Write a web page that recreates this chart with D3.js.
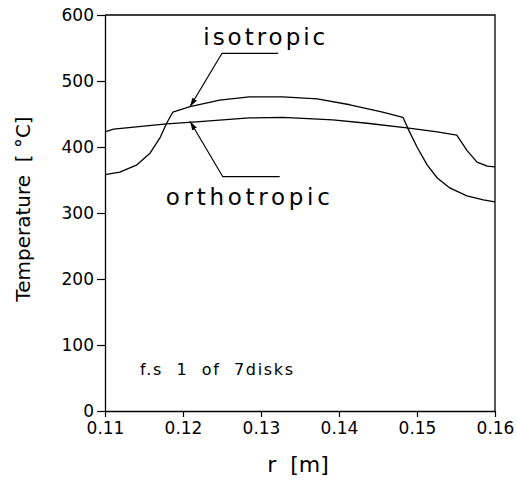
<!DOCTYPE html>
<html>
<head>
<meta charset="utf-8">
<script src="https://cdn.jsdelivr.net/npm/d3@7"></script>
<style>
  body { margin: 0; background: #fff; }
  svg { font-family: "DejaVu Sans", sans-serif; }
</style>
</head>
<body>
<svg width="517" height="487"></svg>
<script>
// radius [m] and temperature [°C]
const rIso = [0.11, 0.1119, 0.1141, 0.1158, 0.1171, 0.1179, 0.1187, 0.1209, 0.1247, 0.1285,
  0.1328, 0.1372, 0.1414, 0.1456, 0.1482, 0.1488, 0.1500, 0.1513, 0.1526, 0.1542,
  0.1564, 0.1585, 0.16];
const tIso = [358, 362, 373, 391, 415, 436, 453, 461, 471, 476,
  476, 473, 464, 453, 445, 429, 400, 373, 353, 338,
  326, 320, 317];

const rOrtho = [0.11, 0.1111, 0.1179, 0.1217, 0.1285, 0.1328, 0.1392, 0.1436, 0.1487, 0.1526,
  0.1551, 0.1564, 0.1577, 0.1590, 0.16];
const tOrtho = [423, 427, 435, 438, 444, 445, 441, 436, 429, 423,
  418, 395, 377, 371, 370];

const xTicks = [0.11, 0.12, 0.13, 0.14, 0.15, 0.16];
const yTicks = [0, 100, 200, 300, 400, 500, 600];

const svg = d3.select('svg');
const x = d3.scaleLinear().domain([0.11, 0.16]).range([105, 495]);
const y = d3.scaleLinear().domain([0, 600]).range([411, 15]);

// frame (top and right)
svg.append('path')
  .attr('d', `M${x(0.11)},${y(600)}H${x(0.16)}V${y(0)}`)
  .attr('fill', 'none')
  .attr('stroke', '#000')
  .attr('stroke-width', 1.3);

const yAxis = svg.append('g')
  .attr('transform', `translate(${x(0.11)},0)`)
  .call(d3.axisLeft(y).tickValues(yTicks).tickSize(8).tickPadding(3).tickSizeOuter(0));

const xAxis = svg.append('g')
  .attr('transform', `translate(0,${y(0)})`)
  .call(d3.axisBottom(x).tickValues(xTicks).tickFormat(d3.format('.2f')).tickSize(6).tickPadding(5).tickSizeOuter(0));

[yAxis, xAxis].forEach((g) => {
  g.select('.domain').attr('stroke-width', 1.3);
  g.selectAll('.tick line').attr('stroke-width', 1.2);
  g.selectAll('.tick text')
    .attr('font-family', '"DejaVu Sans", sans-serif')
    .attr('font-size', 17)
    .attr('fill', '#000');
});

const line = d3.line()
  .x((d) => x(d[0]))
  .y((d) => y(d[1]));

svg.append('path')
  .datum(d3.zip(rIso, tIso))
  .attr('d', line)
  .attr('fill', 'none')
  .attr('stroke', '#000')
  .attr('stroke-width', 1.3)
  .attr('stroke-linejoin', 'round');

svg.append('path')
  .datum(d3.zip(rOrtho, tOrtho))
  .attr('d', line)
  .attr('fill', 'none')
  .attr('stroke', '#000')
  .attr('stroke-width', 1.3)
  .attr('stroke-linejoin', 'round');

// arrowhead
svg.append('defs').append('marker')
  .attr('id', 'arrow')
  .attr('viewBox', '0 0 10 10')
  .attr('refX', 10)
  .attr('refY', 5)
  .attr('markerWidth', 9)
  .attr('markerHeight', 9)
  .attr('markerUnits', 'userSpaceOnUse')
  .attr('orient', 'auto')
  .append('path')
  .attr('d', 'M0,2L10,5L0,8Z')
  .attr('fill', '#000');

// leader lines: end of underline -> elbow -> arrow tip on curve
const leaders = [
  { label: 'isotropic', pts: [[0.1322, 542], [0.125, 542], [0.1209, 461]], tx: 0.1226, ty: 555, w: 122 },
  { label: 'orthotropic', pts: [[0.1324, 355], [0.1251, 355], [0.1209, 439]], tx: 0.1178, ty: 312, w: 164 },
];

leaders.forEach((l) => {
  svg.append('path')
    .attr('d', line(l.pts))
    .attr('fill', 'none')
    .attr('stroke', '#000')
    .attr('stroke-width', 1.2)
    .attr('marker-end', 'url(#arrow)');
  svg.append('text')
    .attr('x', x(l.tx))
    .attr('y', y(l.ty))
    .attr('font-size', 23)
    .attr('textLength', l.w)
    .attr('lengthAdjust', 'spacing')
    .text(l.label);
});

svg.append('text')
  .attr('x', 140)
  .attr('y', 375)
  .attr('font-size', 16)
  .attr('textLength', 153)
  .attr('lengthAdjust', 'spacing')
  .style('white-space', 'pre')
  .text('f.s  1  of  7disks');

svg.append('text')
  .attr('transform', 'translate(30,209) rotate(-90)')
  .attr('text-anchor', 'middle')
  .attr('font-size', 20)
  .style('white-space', 'pre')
  .text('Temperature  [ °C]');

svg.append('text')
  .attr('x', 298)
  .attr('y', 472)
  .attr('text-anchor', 'middle')
  .attr('font-size', 22)
  .style('white-space', 'pre')
  .text('r  [m]');
</script>
</body>
</html>
